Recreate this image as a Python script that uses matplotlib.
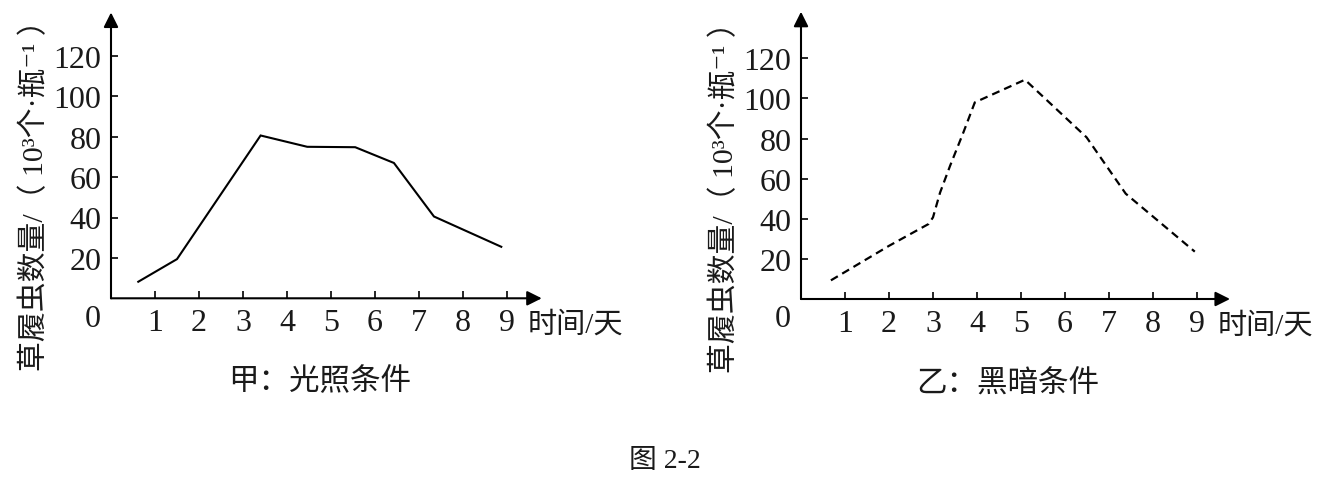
import matplotlib
matplotlib.use('Agg')
import matplotlib.pyplot as plt

plt.rcParams['font.family'] = ['Liberation Serif', 'Noto Sans CJK SC', 'DejaVu Sans']

# values (days, 10^3 individuals per bottle)
days_light = [0.62, 1.50, 3.40, 4.46, 5.55, 6.43, 7.34, 8.87]
count_light = [8.2, 19.4, 80.6, 75.0, 74.8, 67.0, 40.5, 25.5]

days_dark = [0.68, 2.0, 2.9, 3.0, 3.16, 3.39, 3.69, 3.95, 5.09, 6.49, 7.38, 8.95]
count_dark = [9.3, 26.5, 37.4, 40.7, 53.0, 66.5, 83.0, 98.0, 109.3, 80.6, 52.5, 23.6]

x_ticks = [1, 2, 3, 4, 5, 6, 7, 8, 9]
y_ticks = [20, 40, 60, 80, 100, 120]

y_label = '草履虫数量/（ 10³个·瓶⁻¹ ）'
x_label = '时间/天'
titles = ['甲：光照条件', '乙：黑暗条件']
caption = '图 2-2'

W, H = 1333, 481
fig = plt.figure(figsize=(W / 100, H / 100), dpi=100)
text_color = '#1a1a1a'


def make_axes(left_px, zero_px, px_per_day, px_per_unit, xmax, ymax):
    ax = fig.add_axes([left_px / W, (H - zero_px) / H,
                       xmax * px_per_day / W, ymax * px_per_unit / H])
    ax.set_xlim(0, xmax)
    ax.set_ylim(0, ymax)
    for s in ax.spines.values():
        s.set_visible(False)
    arrow = dict(arrowstyle='-|>', lw=1.5, color='k', mutation_scale=22,
                 shrinkA=0, shrinkB=0)
    ax.annotate('', xy=(1, 0), xytext=(0, 0), xycoords='axes fraction',
                arrowprops=arrow, annotation_clip=False)
    ax.annotate('', xy=(0, 1), xytext=(0, 0), xycoords='axes fraction',
                arrowprops=arrow, annotation_clip=False)
    ax.set_xticks(x_ticks)
    ax.set_yticks(y_ticks)
    ax.tick_params(direction='in', length=5, width=1.2, colors='k',
                   labelcolor=text_color, labelsize=23)
    ax.tick_params(axis='x', pad=7)
    ax.tick_params(axis='y', pad=7)
    ax.text(-18 / px_per_day, -20 / px_per_unit, '0', fontsize=23,
            color=text_color, ha='center', va='center', clip_on=False)
    ax.text(9.48, -26 / px_per_unit, x_label, fontsize=21, color=text_color,
            ha='left', va='center', clip_on=False)
    return ax


ax1 = make_axes(111, 299.3, 44.0, 2.02, 9.79, 141.5)
ax1.plot(days_light, count_light, color='k', lw=1.5, solid_joinstyle='miter')

ax2 = make_axes(801, 300, 44.0, 2.006, 9.75, 143.2)
ax2.plot(days_dark, count_dark, color='k', lw=1.6, dashes=(3.6, 2.3))

fig.text(35 / W, 1 - 188 / H, y_label, rotation=90, fontsize=21.5,
         color=text_color, ha='center', va='center')
fig.text(725 / W, 1 - 190 / H, y_label, rotation=90, fontsize=21.5,
         color=text_color, ha='center', va='center')

fig.text(320 / W, 1 - 383 / H, titles[0], fontsize=22, color=text_color,
         ha='center', va='center')
fig.text(1008 / W, 1 - 385 / H, titles[1], fontsize=22, color=text_color,
         ha='center', va='center')
fig.text(665 / W, 1 - 462 / H, caption, fontsize=20, color=text_color,
         ha='center', va='center')

fig.savefig('out.png', dpi=100)
